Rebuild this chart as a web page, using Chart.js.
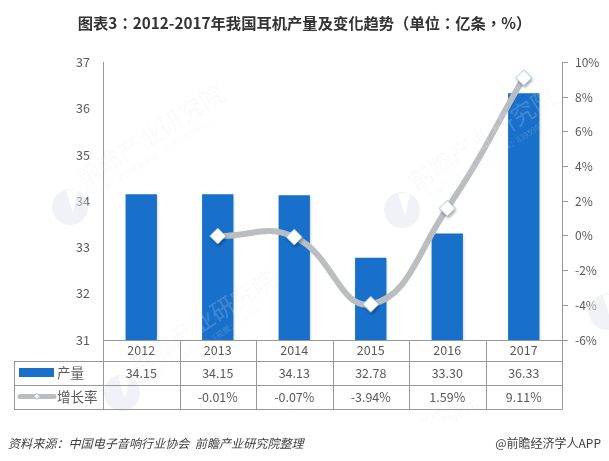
<!DOCTYPE html>
<html>
<head>
<meta charset="utf-8">
<style>
  html, body { margin: 0; padding: 0; background: #fff; }
  canvas { display: block; }
</style>
<script src="https://cdn.jsdelivr.net/npm/chart.js@4"></script>
</head>
<body>
<canvas id="chart" width="609" height="461"></canvas>
<script>
const categories = ["2012", "2013", "2014", "2015", "2016", "2017"];
const output = [34.15, 34.15, 34.13, 32.78, 33.3, 36.33];
const growth = [null, -0.01, -0.07, -3.94, 1.59, 9.11];
const titleText = "图表3：2012-2017年我国耳机产量及变化趋势（单位：亿条，%）";
const sourceText = "资料来源：中国电子音响行业协会  前瞻产业研究院整理";
const creditText = "@前瞻经济学人APP";
const watermarkName = "前瞻产业研究院";
const watermarkSub = "中国产业咨询领导者（股票：839599）";
// where the circle of each watermark sits
const watermarks = [[70, 207], [402, 210], [122, 393], [607, 312], [323, 514]];

const FONT = '"Noto Sans CJK SC", "Noto Sans", sans-serif';
const BAR_COLOR = "#1870cb";
const LINE_COLOR = "#babec1";
const TEXT_COLOR = "#595959";
const RULE_COLOR = "#999";

// diamond marker with its own shadow, so the line itself stays flat
const marker = document.createElement("canvas");
marker.width = marker.height = 28;
(function () {
  const m = marker.getContext("2d");
  m.shadowColor = "rgba(0,0,0,0.4)";
  m.shadowBlur = 3;
  m.shadowOffsetX = 1;
  m.shadowOffsetY = 2;
  m.fillStyle = "#fff";
  m.strokeStyle = "#9cc3f0";
  m.beginPath();
  m.moveTo(14, 6);
  m.lineTo(22, 14);
  m.lineTo(14, 22);
  m.lineTo(6, 14);
  m.closePath();
  m.fill();
  m.shadowColor = "transparent";
  m.stroke();
})();

// faint site watermark, clipped above the footer
const watermarkPlugin = {
  id: "watermark",
  afterDatasetsDraw(chart) {
    const c = chart.ctx;
    c.save();
    c.beginPath();
    c.rect(0, 0, 609, 422);
    c.clip();
    watermarks.forEach(([x, y]) => {
      c.save();
      c.translate(x, y);
      c.fillStyle = "rgba(226,230,240,0.5)";
      c.beginPath();
      c.arc(0, 0, 18, 0, Math.PI * 2);
      c.moveTo(-4, -17);
      c.lineTo(8, -17);
      c.lineTo(3, 6);
      c.closePath();
      c.fill("evenodd");
      c.rotate(-0.56);
      c.fillStyle = "rgba(228,231,240,0.2)";
      c.textAlign = "left";
      c.textBaseline = "middle";
      c.font = "24px " + FONT;
      c.fillText(watermarkName, 22, -18);
      c.font = "8px " + FONT;
      c.fillText(watermarkSub, 30, 2);
      c.restore();
    });
    c.restore();
  },
};

// soft shadow on the bars only
const shadowPlugin = {
  id: "softShadow",
  beforeDatasetDraw(chart, args) {
    if (chart.data.datasets[args.index].type !== "bar") return;
    const c = chart.ctx;
    c.save();
    c.shadowColor = "rgba(0,0,0,0.22)";
    c.shadowBlur = 3;
    c.shadowOffsetX = 1;
    c.shadowOffsetY = 1;
  },
  afterDatasetDraw(chart, args) {
    if (chart.data.datasets[args.index].type !== "bar") return;
    chart.ctx.restore();
  },
};

// data table under the plot, plus the footer lines
const tablePlugin = {
  id: "dataTable",
  afterDraw(chart) {
    const c = chart.ctx;
    const area = chart.chartArea;
    const x = chart.scales.x;
    const step = (area.right - area.left) / categories.length;
    const rows = [area.bottom, 361, 385, 409];
    const tableLeft = 14.5;
    c.save();

    c.strokeStyle = RULE_COLOR;
    c.lineWidth = 1;
    c.beginPath();
    c.moveTo(area.left, rows[0] + 0.5);
    c.lineTo(area.right, rows[0] + 0.5);
    for (let i = 1; i < rows.length; i++) {
      c.moveTo(tableLeft, rows[i] + 0.5);
      c.lineTo(area.right + 0.5, rows[i] + 0.5);
    }
    for (let i = 0; i <= categories.length; i++) {
      const px = Math.round(area.left + step * i) + 0.5;
      c.moveTo(px, rows[0]);
      c.lineTo(px, rows[3]);
    }
    c.moveTo(tableLeft, rows[1]);
    c.lineTo(tableLeft, rows[3] + 1);
    c.stroke();

    c.fillStyle = TEXT_COLOR;
    c.font = "12.5px " + FONT;
    c.textAlign = "center";
    c.textBaseline = "middle";
    categories.forEach((_, i) => {
      const px = x.getPixelForTick(i);
      c.fillText(output[i].toFixed(2), px, 373);
      if (growth[i] !== null) c.fillText(growth[i].toFixed(2) + "%", px, 397);
    });

    // legend keys
    c.fillStyle = BAR_COLOR;
    c.fillRect(19, 368, 35, 9);
    c.strokeStyle = LINE_COLOR;
    c.lineWidth = 5;
    c.lineCap = "round";
    c.beginPath();
    c.moveTo(20, 396.5);
    c.lineTo(54, 396.5);
    c.stroke();
    c.fillStyle = "#fff";
    c.strokeStyle = "#9cc3f0";
    c.lineWidth = 1;
    c.beginPath();
    c.moveTo(37, 393.5);
    c.lineTo(40, 396.5);
    c.lineTo(37, 399.5);
    c.lineTo(34, 396.5);
    c.closePath();
    c.fill();
    c.stroke();

    c.fillStyle = TEXT_COLOR;
    c.font = "13.5px " + FONT;
    c.textAlign = "left";
    c.fillText("产量", 57, 373);
    c.fillText("增长率", 57, 397);

    c.fillStyle = "#404040";
    c.font = "italic 12.1px " + FONT;
    c.fillText(sourceText, 8, 443);
    c.font = "12px " + FONT;
    c.textAlign = "right";
    c.fillText(creditText, 601, 443);
    c.restore();
  },
};

new Chart(document.getElementById("chart"), {
  data: {
    labels: categories,
    datasets: [
      {
        type: "line",
        label: "增长率",
        data: growth,
        yAxisID: "y1",
        order: 1,
        borderColor: LINE_COLOR,
        borderWidth: 6,
        tension: 0.45,
        pointStyle: marker,
        pointRadius: 14,
        pointHoverRadius: 14,
      },
      {
        type: "bar",
        label: "产量",
        data: output,
        yAxisID: "y",
        order: 2,
        backgroundColor: BAR_COLOR,
        categoryPercentage: 1,
        barPercentage: 0.41,
      },
    ],
  },
  plugins: [shadowPlugin, watermarkPlugin, tablePlugin],
  options: {
    responsive: false,
    animation: false,
    devicePixelRatio: 1,
    layout: { padding: 0 },
    plugins: {
      legend: { display: false },
      tooltip: { enabled: false },
      title: {
        display: true,
        text: titleText,
        color: "#333",
        font: { family: '"Noto Sans CJK TC", ' + FONT, size: 15.3, weight: "bold" },
        padding: { top: 14, bottom: 30 },
      },
    },
    scales: {
      x: {
        afterFit(s) { s.height = 121; },
        grid: { display: false, drawTicks: false },
        border: { display: false },
        ticks: {
          color: TEXT_COLOR,
          font: { family: FONT, size: 12.5 },
          padding: 3,
          maxRotation: 0,
        },
      },
      y: {
        position: "left",
        min: 31,
        max: 37,
        afterFit(s) { s.width = 103; },
        grid: { display: false, drawTicks: false },
        border: { display: true, color: RULE_COLOR },
        ticks: {
          stepSize: 1,
          color: TEXT_COLOR,
          font: { family: FONT, size: 12.5 },
          padding: 13,
        },
      },
      y1: {
        position: "right",
        min: -6,
        max: 10,
        afterFit(s) { s.width = 47; },
        grid: { drawOnChartArea: false, color: RULE_COLOR, tickLength: 6 },
        border: { display: true, color: RULE_COLOR },
        ticks: {
          stepSize: 2,
          color: TEXT_COLOR,
          font: { family: FONT, size: 12 },
          padding: 7,
          callback: (v) => v + "%",
        },
      },
    },
  },
});
</script>
</body>
</html>
